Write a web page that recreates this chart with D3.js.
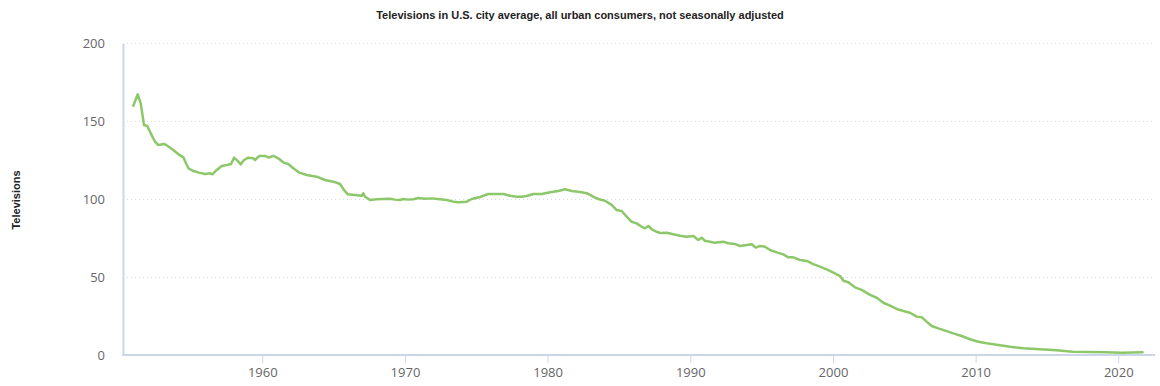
<!DOCTYPE html>
<html>
<head>
<meta charset="utf-8">
<script src="https://cdn.jsdelivr.net/npm/d3@7"></script>
<style>
  body{margin:0;background:#fff;}
  svg text{font-family:"Open Sans",sans-serif;}
  .ttl{font-family:"Liberation Sans Narrow","Liberation Sans",sans-serif!important;font-weight:bold;}
</style>
</head>
<body>
<div id="graphique"></div>
<script>
// Televisions CPI (year, index value)
const years=[1950.96,1951.27,1951.48,1951.71,1951.94,1952.18,1952.48,1952.71,1953.13,1953.37,1953.76,1954.11,1954.47,1954.65,1954.82,1955.17,1955.57,1955.99,1956.34,1956.5,1956.81,1957.16,1957.51,1957.81,1958.02,1958.28,1958.49,1958.72,1959.02,1959.37,1959.49,1959.79,1960.19,1960.47,1960.77,1961.12,1961.47,1961.82,1962.18,1962.6,
  1963.11,1963.81,1964.4,1964.98,1965.45,1965.73,1965.99,1966.5,1966.97,1967.08,1967.2,1967.55,1968.02,1968.95,1969.3,1969.65,1969.88,1970.24,1970.59,1970.94,1971.41,1971.88,1972.46,1972.93,1973.39,1973.74,1974.33,1974.68,1975.26,
  1975.84,1976.31,1976.9,1977.36,1977.83,1978.18,1978.53,1979.0,1979.59,1980.17,1980.75,1981.22,1981.69,1982.27,1982.74,1983.2,1983.55,1984.02,1984.49,1984.84,1985.19,1985.54,1985.89,1986.24,1986.6,1986.83,1987.06,1987.3,1987.65,1987.88,
  1988.35,1988.81,1989.28,1989.75,1990.22,1990.56,1990.8,1991.01,1991.38,1991.71,1992.31,1992.66,1993.11,1993.49,1993.96,1994.31,1994.58,1994.89,1995.24,1995.59,1996.06,1996.52,1996.87,1997.22,1997.69,1998.16,1998.62,1999.09,1999.56,2000.03,
  2000.5,2000.73,2001.07,2001.54,2002.01,2002.6,2003.07,2003.53,2004.0,2004.47,2004.93,2005.4,2005.87,2006.22,2006.57,2006.92,2007.39,2007.86,2008.44,2009.02,2009.61,2010.19,2010.78,
  2011.59,2012.41,2013.34,2014.51,2015.68,2016.8,2017.96,2019.1,2020.3,2021.7];
const values=[159.8,167.1,161.3,147.4,146.8,142.1,136.8,134.6,135.3,134.0,131.4,128.8,126.7,122.9,119.7,117.9,116.9,116.0,116.5,115.8,118.6,121.2,121.8,122.4,126.5,124.4,122.2,125.0,126.5,126.1,125.0,127.6,127.6,126.5,127.6,126.1,123.5,122.4,119.7,116.9,
  115.4,114.3,112.2,111.1,109.6,105.8,103.0,102.6,102.1,103.7,101.5,99.4,99.8,100.2,99.6,99.4,100.0,99.6,99.8,100.6,100.2,100.4,99.8,99.4,98.3,97.9,98.3,100.0,101.3,
  103.2,103.2,103.2,102.1,101.5,101.5,101.9,103.2,103.2,104.3,105.1,106.2,105.1,104.5,103.7,101.5,100.0,98.9,96.2,92.9,92.3,88.7,85.4,84.4,82.2,81.2,82.7,80.6,79.0,78.2,
  78.4,77.4,76.5,75.8,76.3,73.7,75.2,73.3,72.6,72.0,72.6,71.6,71.2,69.9,70.5,71.0,68.8,69.9,69.4,67.3,65.8,64.5,62.6,62.6,60.9,60.3,58.3,56.6,54.9,52.8,
  50.6,47.6,46.6,43.4,41.7,38.5,36.7,33.5,31.6,29.5,28.2,27.1,24.6,24.2,21.4,18.6,17.1,15.6,13.9,12.2,10.1,8.5,7.5,
  6.4,5.3,4.3,3.7,3.0,2.1,1.9,1.7,1.5,1.7];
const yTicks=[0,50,100,150,200];
const xTicks=[1960,1970,1980,1990,2000,2010,2020];
const title="Televisions in U.S. city average, all urban consumers, not seasonally adjusted";
const yLabel="Televisions";

const width=1160,height=386;
const data=years.map((y,i)=>({year:y,value:values[i]}));
const svg=d3.select("#graphique").append("svg").attr("width",width).attr("height",height);

const x_scale=d3.scaleLinear().domain([1950,2020]).range([119.6,1118.3]);
const y_scale=d3.scaleLinear().domain([0,200]).range([355,43]);
const left=123,right=1155;

// grid lines (dotted)
svg.append("g").selectAll("line").data(yTicks.filter(v=>v>0)).enter().append("line")
    .attr("x1",left+4).attr("x2",right).attr("y1",d=>y_scale(d)+0.5).attr("y2",d=>y_scale(d)+0.5)
    .attr("stroke","#d9d9d9").attr("stroke-dasharray","1,3");

// y axis
const y_axis=d3.axisLeft(y_scale).tickValues(yTicks).tickSize(0).tickPadding(18);
const gy=svg.append("g").attr("transform","translate("+left+",0)").call(y_axis);
gy.select(".domain").attr("stroke","#ccd6eb").attr("stroke-width",2);
gy.selectAll("text").attr("fill","#666").style("font-size","13px");

// x axis
const x_axis=d3.axisBottom(x_scale).tickValues(xTicks).tickFormat(d3.format("d")).tickSize(8).tickPadding(5);
const gx=svg.append("g").attr("transform","translate(0,355)").call(x_axis);
gx.select(".domain").remove();
gx.selectAll(".tick line").attr("stroke","#ccd6eb");
gx.selectAll("text").attr("fill","#666").style("font-size","13px");
svg.append("line").attr("x1",left-1).attr("x2",right).attr("y1",355).attr("y2",355)
    .attr("stroke","#ccd6eb").attr("stroke-width",2);

// the series
const line=d3.line().x(d=>x_scale(d.year)).y(d=>y_scale(d.value));
svg.append("path").datum(data).attr("d",line)
    .attr("fill","none").attr("stroke","#8cc86a").attr("stroke-width",2.5)
    .attr("stroke-linejoin","round").attr("stroke-linecap","round");

// titles
svg.append("text").attr("class","ttl").attr("x",580).attr("y",19).attr("text-anchor","middle")
    .attr("fill","#222").style("font-size","11px").text(title);
svg.append("text").attr("class","ttl").attr("transform","translate(20,200) rotate(-90)")
    .attr("text-anchor","middle").attr("fill","#222").style("font-size","11px").text(yLabel);
</script>
</body>
</html>
